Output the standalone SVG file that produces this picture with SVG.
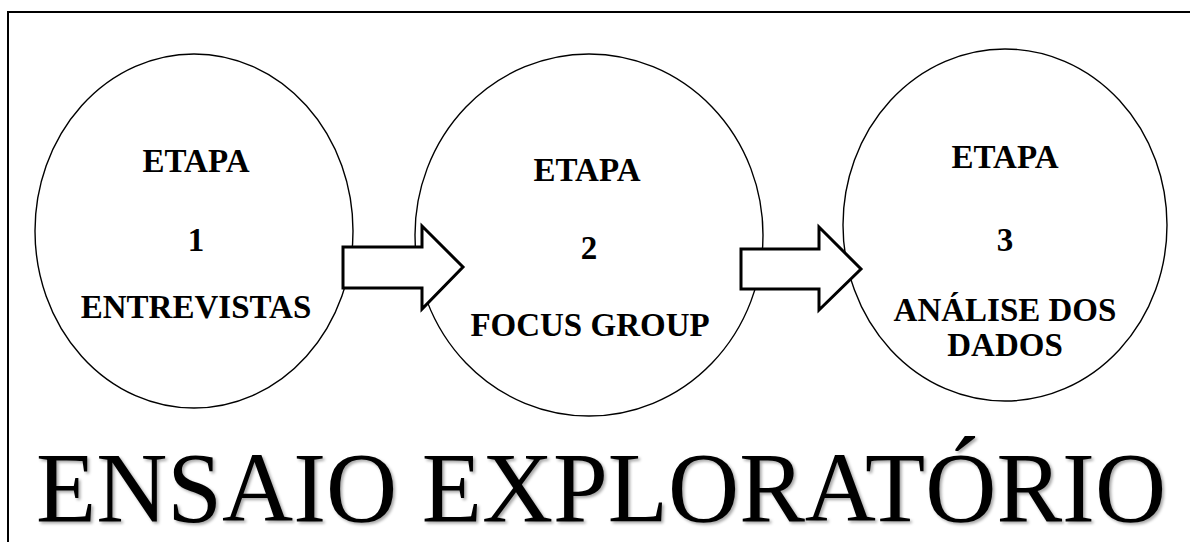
<svg xmlns="http://www.w3.org/2000/svg" width="1190" height="542" viewBox="0 0 1190 542">
  <defs>
    <filter id="shadow" x="-5%" y="-10%" width="110%" height="130%">
      <feDropShadow dx="2" dy="2" stdDeviation="1.5" flood-color="#000" flood-opacity="0.35"/>
    </filter>
  </defs>
  <style>
    .frame { fill: none; stroke: #000; stroke-width: 2; }
    .node { fill: #fff; stroke: #000; stroke-width: 1.4; }
    .arrow { fill: #fff; stroke: #000; stroke-width: 3; stroke-linejoin: miter; }
    .lbl { font-family: "Liberation Serif", "Times New Roman", serif; font-weight: bold; font-size: 33px; fill: #000; text-anchor: middle; }
    .title { font-family: "Liberation Serif", "Times New Roman", serif; font-size: 98.5px; fill: #000; }
  </style>
  <rect x="0" y="0" width="1190" height="542" fill="#fff"/>
  <rect class="frame" x="8" y="12" width="1200" height="600"/>

  <g id="node1">
    <ellipse class="node" cx="194" cy="231" rx="159" ry="177"/>
    <text class="lbl" x="196" y="172">ETAPA</text>
    <text class="lbl" x="196" y="251">1</text>
    <text class="lbl" x="196" y="318">ENTREVISTAS</text>
  </g>
  <g id="node2">
    <ellipse class="node" cx="589" cy="235" rx="174" ry="181"/>
    <text class="lbl" x="587" y="181">ETAPA</text>
    <text class="lbl" x="589" y="259">2</text>
    <text class="lbl" x="590" y="336">FOCUS GROUP</text>
  </g>
  <g id="node3">
    <ellipse class="node" cx="1005" cy="225" rx="162" ry="176"/>
    <text class="lbl" x="1005" y="168">ETAPA</text>
    <text class="lbl" x="1005" y="251">3</text>
    <text class="lbl" x="1005" y="321">ANÁLISE DOS</text>
    <text class="lbl" x="1005" y="356">DADOS</text>
  </g>

  <g id="connectors">
    <polygon class="arrow" points="343,247 422,247 422,226 463,267 422,309 422,288 343,288"/>
    <polygon class="arrow" points="741,249 819,249 819,227 861,269 819,310 819,289 741,289"/>
  </g>

  <text class="title" x="36" y="521" filter="url(#shadow)">ENSAIO EXPLORATÓRIO</text>
</svg>
